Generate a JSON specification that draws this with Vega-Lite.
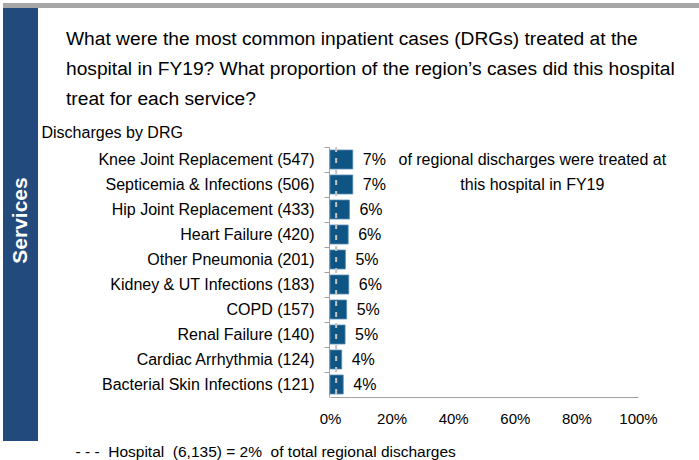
{
  "$schema": "https://vega.github.io/schema/vega-lite/v6.json",
  "padding": {"left": 3, "top": 3, "right": 0, "bottom": 0},
  "background": "white",
  "config": {"font": "Liberation Sans", "view": {"stroke": null}},
  "datasets": {
    "drg": [
      {"drg": "Knee Joint Replacement (547)", "share": 0.074},
      {"drg": "Septicemia & Infections (506)", "share": 0.074},
      {"drg": "Hip Joint Replacement (433)", "share": 0.063},
      {"drg": "Heart Failure (420)", "share": 0.059},
      {"drg": "Other Pneumonia (201)", "share": 0.05},
      {"drg": "Kidney & UT Infections (183)", "share": 0.061},
      {"drg": "COPD (157)", "share": 0.054},
      {"drg": "Renal Failure (140)", "share": 0.049},
      {"drg": "Cardiac Arrhythmia  (124)", "share": 0.038},
      {"drg": "Bacterial Skin Infections (121)", "share": 0.043}
    ],
    "note": [
      {"drg": "Knee Joint Replacement (547)", "text": "of regional discharges were treated at"},
      {"drg": "Septicemia & Infections (506)", "text": "this hospital in FY19"}
    ],
    "hospital": [{"name": "Hospital", "discharges": 6135, "share": 0.02}],
    "side": [{"label": "Services"}]
  },
  "spacing": 0,
  "vconcat": [
    {
      "width": 696, "height": 5,
      "data": {"name": "side"},
      "mark": {"type": "rect", "color": "#a6a6a6"},
      "encoding": {}
    },
    {
      "spacing": 3,
      "hconcat": [
        {
          "width": 35, "height": 433,
          "data": {"name": "side"},
          "layer": [
            {"mark": {"type": "rect", "color": "#234a7c"}, "encoding": {}},
            {"mark": {"type": "text", "angle": 270, "color": "white", "fontSize": 21, "fontWeight": "bold", "dx": 4},
             "encoding": {"text": {"field": "label"}}}
          ]
        },
        {
          "spacing": 14,
          "vconcat": [
            {
              "width": 300, "height": 1,
              "data": {"name": "side"},
              "mark": {"type": "rect", "opacity": 0},
              "encoding": {},
              "title": {
                "text": [
                  "What were the most common inpatient cases (DRGs) treated at the",
                  "hospital in FY19? What proportion of the region’s cases did this hospital",
                  "treat for each service?"
                ],
                "orient": "bottom", "anchor": "start", "frame": "group",
                "fontSize": 19.2, "lineHeight": 30, "fontWeight": "normal", "color": "black",
                "dx": -264, "offset": 21
              }
            },
            {
              "width": 308, "height": 250,
              "layer": [
                {
                  "data": {"name": "drg"},
                  "mark": {"type": "bar", "color": "#0e5584", "stroke": "#5b8db5", "strokeWidth": 0.8},
                  "encoding": {
                    "y": {
                      "field": "drg", "type": "nominal", "sort": null,
                      "scale": {"paddingInner": 0.24, "paddingOuter": 0.12},
                      "axis": {
                        "title": "Discharges by DRG", "titleAngle": 0, "titleAlign": "left",
                        "titleBaseline": "alphabetic", "titleX": -288, "titleY": -10,
                        "titleFontSize": 16, "titleFontWeight": "normal", "titleColor": "black",
                        "labelFontSize": 16, "labelColor": "black", "labelPadding": 10,
                        "tickSize": 5, "tickColor": "#a0a0a0", "domainColor": "#a0a0a0",
                        "tickOffset": -12.5, "labelOffset": 12.5, "offset": 1, "labelLimit": 400
                      }
                    },
                    "x": {
                      "field": "share", "type": "quantitative",
                      "scale": {"domain": [0, 1], "nice": false},
                      "axis": {
                        "format": ".0%", "values": [0, 0.2, 0.4, 0.6, 0.8, 1],
                        "ticks": false, "tickSize": 0, "grid": false,
                        "domainColor": "#a0a0a0", "labelFontSize": 15, "labelColor": "black",
                        "labelPadding": 14, "labelFlush": false,
                        "title": "- - -\u00a0 Hospital\u00a0 (6,135) = 2%\u00a0 of total regional discharges",
                        "titleX": -255, "titleY": 59, "titleAlign": "left", "titleBaseline": "alphabetic",
                        "titleFontSize": 15.5, "titleFontWeight": "normal", "titleColor": "black"
                      }
                    }
                  }
                },
                {
                  "data": {"name": "drg"},
                  "mark": {"type": "text", "align": "left", "dx": 10, "fontSize": 16, "color": "black"},
                  "encoding": {
                    "y": {"field": "drg", "type": "nominal", "sort": null},
                    "x": {"field": "share", "type": "quantitative"},
                    "text": {"field": "share", "format": ".0%"}
                  }
                },
                {
                  "data": {"name": "hospital"},
                  "mark": {"type": "rule", "color": "#c4c4c4", "strokeDash": [5, 6], "strokeWidth": 2},
                  "encoding": {"x": {"field": "share", "type": "quantitative"}}
                },
                {
                  "data": {"name": "note"},
                  "mark": {"type": "text", "align": "center", "fontSize": 16, "color": "black"},
                  "encoding": {
                    "y": {"field": "drg", "type": "nominal", "sort": null},
                    "x": {"datum": 0.657},
                    "text": {"field": "text"}
                  }
                }
              ]
            }
          ]
        }
      ]
    }
  ]
}
